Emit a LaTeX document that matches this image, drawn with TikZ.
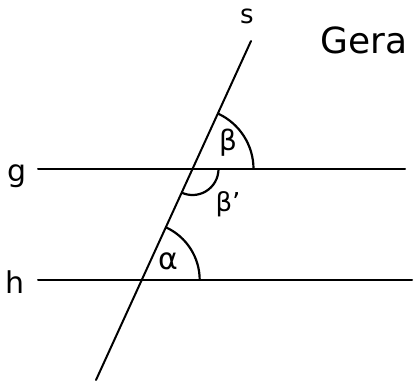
\documentclass[tikz,border=0pt]{standalone}
\usepackage{fontspec}
\setsansfont{DejaVu Sans}
\begin{document}
\begin{tikzpicture}[x=1pt,y=-1pt,
  ln/.style={line width=2pt,line cap=round},
  arcline/.style={line width=2.2pt},
  lbl/.style={inner sep=0pt}]
\useasboundingbox (0,0) rectangle (414,384);
\coordinate (sT) at (251,41);
\coordinate (sB) at (96,380);
\coordinate (gL) at (38,169);
\coordinate (gR) at (405,169);
\coordinate (hL) at (38,280);
\coordinate (hR) at (412,280);
\draw[ln] (sB) -- (sT);
\draw[ln] (gL) -- (gR);
\draw[ln] (hL) -- (hR);
\coordinate (P) at (192.5,169);
\coordinate (Q) at (141.7,280);
% beta arc (above g, right of s)
\draw[arcline] (P) ++(0:61) arc[start angle=0,end angle=-65.4,radius=61];
% beta' arc (below g, right of s)
\draw[arcline] (P) ++(0:26) arc[start angle=0,end angle=114.6,radius=26];
% alpha arc
\draw[arcline] (Q) ++(0:58) arc[start angle=0,end angle=-65.4,radius=58];
\node[lbl,font=\sffamily\fontsize{26}{26}\selectfont] (s) at (247,16) {s};
\node[lbl,anchor=west,font=\sffamily\fontsize{36}{36}\selectfont] (gera) at (320,40) {Gera};
\node[lbl,font=\sffamily\fontsize{30}{30}\selectfont] (g) at (17,176) {g};
\node[lbl,font=\sffamily\fontsize{30}{30}\selectfont] (h) at (15,282) {h};
\node[lbl,font=\sffamily\fontsize{28}{28}\selectfont] (beta) at (228,143) {β};
\node[lbl,font=\sffamily\fontsize{26}{26}\selectfont] (betap) at (228,204) {β'};
\node[lbl,font=\sffamily\fontsize{30}{30}\selectfont] (alpha) at (168,261) {α};
\end{tikzpicture}
\end{document}
